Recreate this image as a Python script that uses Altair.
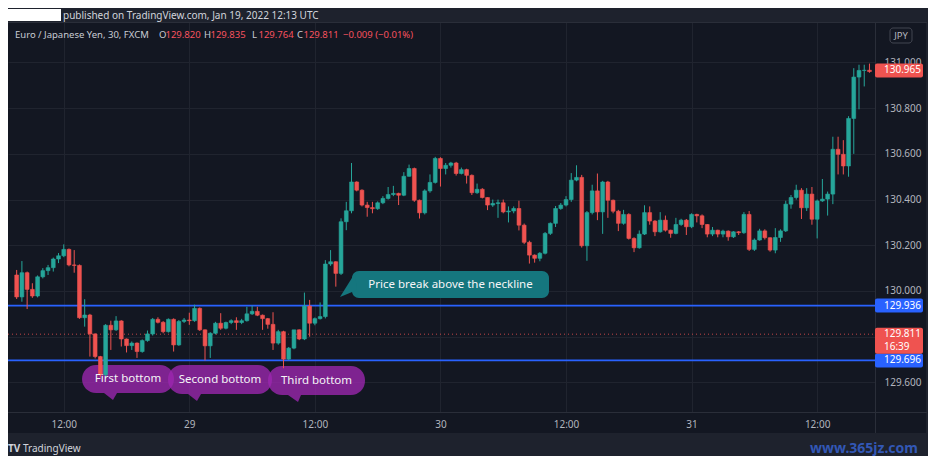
import altair as alt
import pandas as pd

# ---------------- data ----------------
first_open = 130.070
closes = [
    129.974, 130.080, 130.007, 129.978, 130.062, 130.089, 130.102, 130.140, 130.154, 130.182,
    130.114, 130.112, 129.883, 129.895, 129.812, 129.713, 129.633, 129.850, 129.830, 129.869,
    129.790, 129.761, 129.772, 129.735, 129.783, 129.812, 129.876, 129.863, 129.822, 129.876,
    129.764, 129.867, 129.873, 129.870, 129.924, 129.830, 129.760, 129.815, 129.859, 129.837,
    129.862, 129.870, 129.862, 129.870, 129.900, 129.911, 129.894, 129.879, 129.854, 129.772,
    129.822, 129.702, 129.750, 129.830, 129.790, 129.934, 129.859, 129.879, 129.888, 130.118,
    130.128, 130.077, 130.303, 130.351, 130.477, 130.441, 130.376, 130.365, 130.360, 130.386,
    130.405, 130.422, 130.427, 130.419, 130.502, 130.536, 130.397, 130.342, 130.438, 130.475,
    130.580, 130.536, 130.550, 130.560, 130.514, 130.531, 130.506, 130.430, 130.445, 130.409,
    130.376, 130.383, 130.386, 130.346, 130.350, 130.361, 130.288, 130.213, 130.157, 130.143,
    130.165, 130.252, 130.296, 130.361, 130.376, 130.400, 130.485, 130.497, 130.198, 130.343,
    130.438, 130.346, 130.477, 130.397, 130.349, 130.296, 130.335, 130.230, 130.189, 130.249,
    130.343, 130.306, 130.259, 130.310, 130.266, 130.252, 130.291, 130.310, 130.281, 130.335,
    130.329, 130.291, 130.249, 130.266, 130.249, 130.262, 130.237, 130.259, 130.255, 130.335,
    130.182, 130.223, 130.263, 130.233, 130.179, 130.234, 130.263, 130.380, 130.409, 130.441,
    130.364, 130.424, 130.314, 130.394, 130.402, 130.424, 130.620, 130.598, 130.547, 130.755,
    130.936, 130.965, 130.966, 130.960,
]
highs = [
    130.092, 130.131, 130.085, 130.034, 130.068, 130.100, 130.114, 130.146, 130.166, 130.204,
    130.186, 130.179, 130.116, 129.964, 129.900, 129.815, 129.716, 129.855, 129.870, 129.890,
    129.872, 129.792, 129.779, 129.775, 129.788, 129.827, 129.882, 129.885, 129.868, 129.880,
    129.880, 129.873, 129.882, 129.905, 129.940, 129.928, 129.832, 129.820, 129.865, 129.903,
    129.866, 129.876, 129.885, 129.878, 129.931, 129.936, 129.931, 129.897, 129.882, 129.907,
    129.830, 129.826, 129.755, 129.830, 129.832, 129.993, 129.961, 129.884, 129.950, 130.135,
    130.179, 130.130, 130.318, 130.390, 130.560, 130.480, 130.445, 130.390, 130.390, 130.392,
    130.415, 130.455, 130.460, 130.430, 130.520, 130.553, 130.540, 130.400, 130.445, 130.510,
    130.587, 130.585, 130.560, 130.565, 130.565, 130.540, 130.535, 130.510, 130.470, 130.450,
    130.410, 130.400, 130.400, 130.400, 130.370, 130.370, 130.395, 130.295, 130.220, 130.160,
    130.170, 130.258, 130.300, 130.372, 130.385, 130.415, 130.516, 130.550, 130.508, 130.350,
    130.465, 130.514, 130.482, 130.482, 130.400, 130.355, 130.355, 130.340, 130.235, 130.265,
    130.375, 130.370, 130.310, 130.345, 130.330, 130.268, 130.320, 130.316, 130.315, 130.340,
    130.338, 130.335, 130.293, 130.280, 130.268, 130.268, 130.265, 130.262, 130.262, 130.345,
    130.350, 130.230, 130.272, 130.270, 130.235, 130.275, 130.270, 130.395, 130.420, 130.465,
    130.450, 130.450, 130.455, 130.400, 130.490, 130.435, 130.675, 130.675, 130.660, 130.765,
    130.975, 130.990, 130.990, 130.995,
]
lows = [
    129.965, 129.953, 129.921, 129.970, 129.972, 130.055, 130.070, 130.085, 130.122, 130.148,
    130.108, 130.080, 129.878, 129.844, 129.713, 129.705, 129.622, 129.615, 129.742, 129.825,
    129.757, 129.731, 129.742, 129.707, 129.730, 129.778, 129.805, 129.858, 129.815, 129.818,
    129.735, 129.760, 129.860, 129.852, 129.865, 129.825, 129.696, 129.707, 129.810, 129.830,
    129.832, 129.855, 129.830, 129.855, 129.866, 129.895, 129.890, 129.830, 129.835, 129.742,
    129.765, 129.662, 129.698, 129.745, 129.785, 129.785, 129.800, 129.850, 129.875, 129.880,
    130.110, 130.019, 130.070, 130.266, 130.340, 130.436, 130.370, 130.325, 130.340, 130.355,
    130.380, 130.400, 130.415, 130.376, 130.415, 130.500, 130.390, 130.317, 130.335, 130.430,
    130.470, 130.457, 130.510, 130.540, 130.505, 130.510, 130.470, 130.420, 130.425, 130.405,
    130.354, 130.368, 130.320, 130.340, 130.300, 130.340, 130.265, 130.205, 130.120, 130.124,
    130.130, 130.160, 130.245, 130.280, 130.355, 130.370, 130.390, 130.480, 130.190, 130.132,
    130.335, 130.310, 130.250, 130.320, 130.340, 130.262, 130.290, 130.225, 130.170, 130.185,
    130.245, 130.290, 130.240, 130.255, 130.260, 130.233, 130.248, 130.285, 130.245, 130.275,
    130.300, 130.275, 130.235, 130.240, 130.235, 130.235, 130.220, 130.232, 130.245, 130.250,
    130.175, 130.175, 130.220, 130.225, 130.172, 130.165, 130.215, 130.258, 130.360, 130.400,
    130.315, 130.350, 130.290, 130.230, 130.390, 130.330, 130.380, 130.510, 130.510, 130.500,
    130.600, 130.795, 130.895, 130.955,
]

time_tick_index = [9, 33, 57, 81, 105, 129, 153]
time_tick_labels = ["12:00", "29", "12:00", "30", "12:00", "31", "12:00"]
price_ticks = [129.6, 129.8, 130.0, 130.2, 130.4, 130.6, 130.8, 131.0]
hidden_price_tick = 129.8   # covered by the live-price badge in the original

blue_levels = [129.936, 129.696]
last_price = 130.965
current_price = 129.811
countdown = "16:39"

publish_text = "published on TradingView.com, Jan 19, 2022 12:13 UTC"
header_title = "Euro / Japanese Yen, 30, FXCM"
ohlc_letters = ["O", "H", "L", "C"]
ohlc_values = ["129.820", "129.835", "129.764", "129.811"]
change_text = "\u22120.009 (\u22120.01%)"

bottom_labels = ["First bottom", "Second bottom", "Third bottom"]
break_label = "Price break above the neckline"

# ---------------- styling ----------------
UP, DOWN = "#26a69a", "#ef5350"
BG, FRAME = "#131722", "#1e222d"
GRID, BORDER = "#20242f", "#2a2e39"
TXT = "#b2b5be"
FONT = "Noto Sans"
W, H = 867, 390

opens = [first_open] + closes[:-1]
df = pd.DataFrame({"i": list(range(len(closes))), "o": opens, "c": closes,
                   "h": highs, "l": lows})
df["col"] = [UP if c >= o else DOWN for o, c in zip(opens, closes)]

xs = alt.Scale(domain=[-0.70, 163.10], nice=False, zero=False)
ys = alt.Scale(domain=[129.4705, 131.177], nice=False, zero=False)

expr = "'12:00'"
for v, t in zip(time_tick_index, time_tick_labels):
    expr = f"datum.value == {v} ? '{t}' : ({expr})"
yexpr = f"abs(datum.value - {hidden_price_tick}) < 0.001 ? '' : format(datum.value, '.3f')"

xaxis = alt.Axis(values=time_tick_index, labelExpr=expr, grid=True, gridColor=GRID,
                 ticks=False, domain=False, labelColor=TXT, labelFont=FONT,
                 labelFontSize=10, labelPadding=7, title=None, zindex=0,
                 labelFlush=False, labelOverlap=False)
yaxis = alt.Axis(orient="right", values=price_ticks, labelExpr=yexpr, grid=True,
                 gridColor=GRID, ticks=False, domain=False, labelColor=TXT,
                 labelFont=FONT, labelFontSize=10, labelPadding=9, title=None,
                 zindex=0, labelFlush=False, labelOverlap=False)


def Y(field):
    return alt.Y(field, scale=ys, axis=yaxis)


def X(field):
    return alt.X(field, scale=xs, axis=xaxis)


one = pd.DataFrame({"k": [0]})


def box(x1, x2, y1, y2, **kw):
    return alt.Chart(one).mark_rect(**kw).encode(
        x=alt.value(x1), x2=alt.value(x2), y=alt.value(y1), y2=alt.value(y2))


def label(txt, x, y, **kw):
    base = dict(font=FONT, fontSize=10, align="left", baseline="middle")
    base.update(kw)
    return alt.Chart(one).mark_text(text=txt, **base).encode(
        x=alt.value(x), y=alt.value(y))


def tail(path, x, y, color):
    return alt.Chart(one).mark_point(shape=path, size=4, filled=True, color=color,
                                     opacity=1, strokeWidth=0).encode(
        x=alt.value(x), y=alt.value(y))


# candles
wicks = alt.Chart(df).mark_rule(strokeWidth=1, clip=True).encode(
    x=X("i:Q"), y=Y("l:Q"), y2="h:Q",
    color=alt.Color("col:N", scale=None))
bodies = alt.Chart(df).mark_bar(width=3.8, strokeWidth=0.6, clip=True).encode(
    x=X("i:Q"), y=Y("o:Q"), y2="c:Q",
    color=alt.Color("col:N", scale=None), stroke=alt.Stroke("col:N", scale=None))

layers = []
# frame strips
layers.append(box(0, 920, -14, 0, color=FRAME))
layers.append(box(0, 920, 411, 434, color=FRAME))
layers.append(box(0, 53, -13, -1, color="#ffffff"))
# borders
for spec in [(0, 919, 0.5), (0, 919, 390.5)]:
    layers.append(alt.Chart(one).mark_rule(color=BORDER, strokeWidth=1).encode(
        x=alt.value(spec[0]), x2=alt.value(spec[1]), y=alt.value(spec[2])))
for xv in [867.5, 919]:
    layers.append(alt.Chart(one).mark_rule(color=BORDER, strokeWidth=1).encode(
        x=alt.value(xv), y=alt.value(0), y2=alt.value(411)))

# callout bubbles (drawn under the candles)
PURPLE, PURPLE_SOLID, TEAL = "#9c27b0", "#7e2391", "#15767e"
for (x1, x2, y1, y2) in [(74, 166, 343, 371), (160, 264, 343, 372), (260, 357, 344, 373)]:
    layers.append(box(x1, x2, y1, y2, color=PURPLE, opacity=0.78, cornerRadius=14))
layers.append(tail("M0,0 L-9,-7 L4,-7 Z", 105, 378, PURPLE_SOLID))
layers.append(tail("M0,0 L-9,-7 L4,-7 Z", 189, 379, PURPLE_SOLID))
layers.append(tail("M0,0 L-10,-7 L3,-7 Z", 290, 380, PURPLE_SOLID))
layers.append(box(344, 541, 249, 276, color=TEAL, cornerRadius=7))
layers.append(tail("M0,0 L15,-24 L17,-7 Z", 332, 275, TEAL))

# horizontal levels
lv = pd.DataFrame({"p": blue_levels})
layers.append(alt.Chart(lv).mark_rule(color="#2962ff", strokeWidth=1.8).encode(
    y=Y("p:Q"), x=alt.value(0), x2=alt.value(W)))
cp = pd.DataFrame({"p": [current_price]})
layers.append(alt.Chart(cp).mark_rule(color=DOWN, strokeWidth=1, strokeDash=[1, 3],
                                      opacity=0.8).encode(
    y=Y("p:Q"), x=alt.value(0), x2=alt.value(W)))

layers += [wicks, bodies]

# bubble texts
WHITE = "#f5f5f7"
layers.append(label(bottom_labels[0], 120, 357, align="center", fontSize=11.5, color=WHITE))
layers.append(label(bottom_labels[1], 212, 357.5, align="center", fontSize=11.5, color=WHITE))
layers.append(label(bottom_labels[2], 308.5, 358.5, align="center", fontSize=11.5, color=WHITE))
layers.append(label(break_label, 442.5, 262.5, align="center", fontSize=11.5, color=WHITE))

# price-scale labels
bl = pd.DataFrame({"p": blue_levels, "t": [f"{v:.3f}" for v in blue_levels]})
layers.append(alt.Chart(bl).mark_tick(orient="horizontal", size=48, thickness=14,
                                      color="#2962ff", opacity=1, cornerRadius=2).encode(
    y=Y("p:Q"), x=alt.value(891)))
layers.append(alt.Chart(bl).mark_text(font=FONT, fontSize=10, align="left",
                                      baseline="middle", color="#ffffff").encode(
    y=Y("p:Q"), x=alt.value(876), text="t:N"))
lp = pd.DataFrame({"p": [last_price], "t": [f"{last_price:.3f}"]})
layers.append(alt.Chart(lp).mark_tick(orient="horizontal", size=48, thickness=14,
                                      color=DOWN, opacity=1, cornerRadius=2).encode(
    y=Y("p:Q"), x=alt.value(891)))
layers.append(alt.Chart(lp).mark_text(font=FONT, fontSize=10, align="left",
                                      baseline="middle", color="#ffffff").encode(
    y=Y("p:Q"), x=alt.value(876), text="t:N"))
cpl = pd.DataFrame({"p": [current_price], "t": [f"{current_price:.3f}"], "cd": [countdown]})
layers.append(alt.Chart(cpl).mark_tick(orient="horizontal", size=48, thickness=26,
                                       yOffset=6.5, color=DOWN, opacity=1,
                                       cornerRadius=2).encode(
    y=Y("p:Q"), x=alt.value(891)))
layers.append(alt.Chart(cpl).mark_text(font=FONT, fontSize=10, align="left",
                                       baseline="middle", color="#ffffff").encode(
    y=Y("p:Q"), x=alt.value(876), text="t:N"))
layers.append(alt.Chart(cpl).mark_text(font=FONT, fontSize=10, align="left",
                                       baseline="middle", color="#ffffff", dy=12.5).encode(
    y=Y("p:Q"), x=alt.value(876), text="cd:N"))

# header texts
layers.append(label(publish_text, 55, -6.5, color="#d1d4dc", fontSize=10))
layers.append(label(header_title, 7, 13, color="#c9ccd4", fontSize=9.5))
ox = [151, 196, 244, 289]
for letter, val, x in zip(ohlc_letters, ohlc_values, ox):
    layers.append(label(letter, x, 13, color="#c9ccd4", fontSize=9.5))
    layers.append(label(val, x + 6.5, 13, color="#f7525f", fontSize=9.5))
layers.append(label(change_text, 335, 13, color="#f7525f", fontSize=9.5))

# JPY currency box
layers.append(box(882, 904, 6, 21, fill=BG, stroke="#434651", strokeWidth=1, cornerRadius=3))
layers.append(label("JPY", 893, 13.5, align="center", color=TXT, fontSize=9.5))

# footer
layers.append(label("TV", 0, 427, color="#d1d4dc", fontSize=10, fontWeight="bold"))
layers.append(label("TradingView", 15, 427, color="#d1d4dc", fontSize=10))
layers.append(label("www.365jz.com", 910, 427, align="right", color="#3257b5",
                    fontSize=14, fontWeight="bold"))

chart = alt.layer(*layers).properties(
    width=W, height=H, background=BG,
    padding={"left": 0, "top": 14, "right": 53, "bottom": 44},
    autosize=alt.AutoSizeParams(type="none"),
).configure_view(strokeWidth=0)

chart.save("out.html", embed_options={"renderer": "svg", "actions": False})
